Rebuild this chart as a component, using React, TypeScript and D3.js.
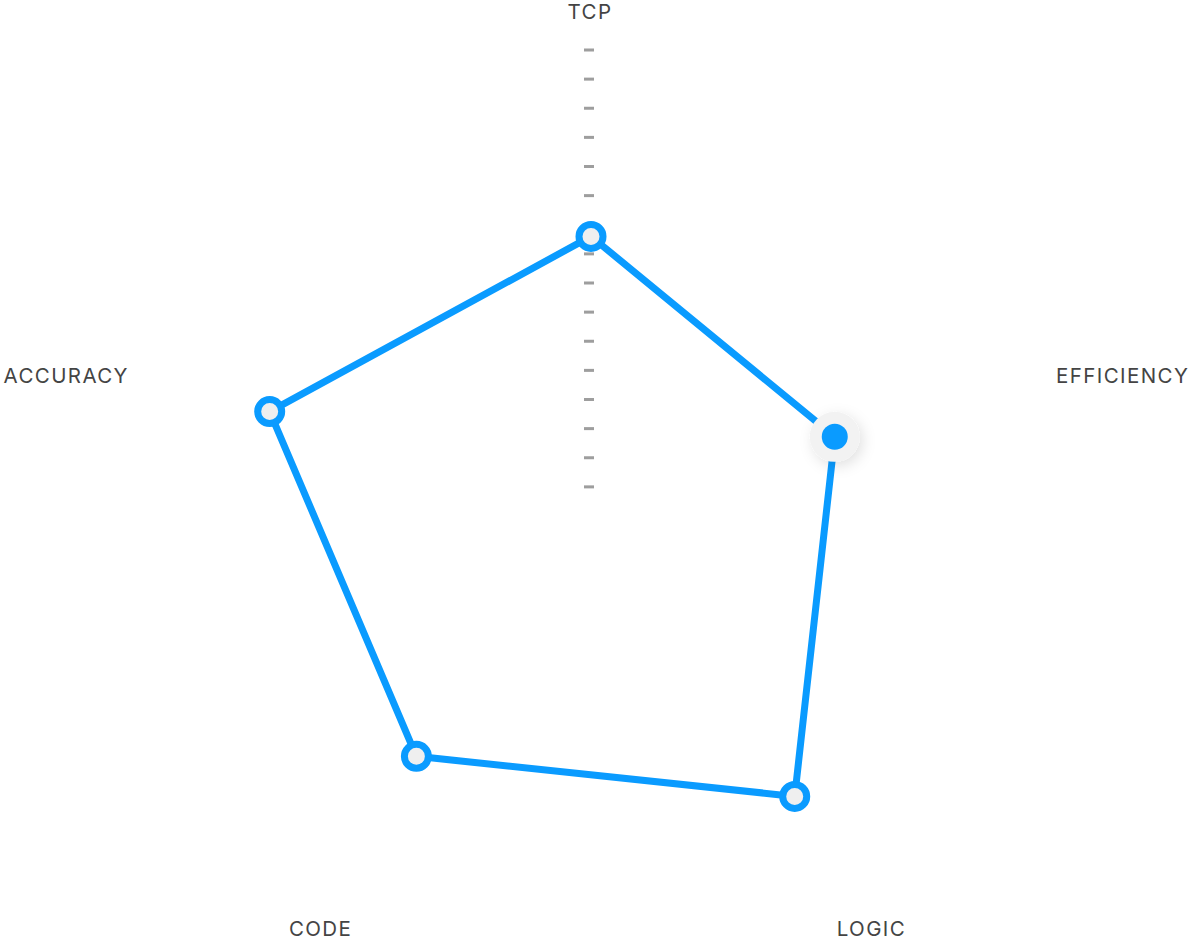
import React from "react";
import * as d3 from "d3";

const axes: string[] = ["TCP", "EFFICIENCY", "LOGIC", "CODE", "ACCURACY"];
const values: number[] = [96, 88, 119, 102, 116];
const domainMax = 160;
const tickStep = 10;
const hoveredIndex = 1;

const W = 1190;
const H = 940;
const cx = 591;
const cy = 516;
const R = 466;
const BLUE = "#0A9BFF";

export default function App() {
  const r = d3.scaleLinear().domain([0, domainMax]).range([0, R]);
  const angle = d3
    .scaleLinear()
    .domain([0, axes.length])
    .range([0, 2 * Math.PI]);

  const ticks = d3.range(tickStep, domainMax + tickStep / 2, tickStep);

  const line = d3
    .lineRadial<number>()
    .angle((_, i) => angle(i))
    .radius((d) => r(d))
    .curve(d3.curveLinearClosed);

  const pt = (i: number, v: number) => {
    const a = angle(i);
    return [cx + r(v) * Math.sin(a), cy - r(v) * Math.cos(a)];
  };

  const labelR = 489;
  const labels = axes.map((name, i) => {
    const a = angle(i);
    const s = Math.sin(a);
    const c = -Math.cos(a);
    let x = cx + s * labelR;
    let y = cy + c * labelR;
    let anchor = "middle";
    if (Math.abs(s) < 0.1) {
      y -= 16;
      x -= 1;
    } else if (Math.abs(s) > 0.9) {
      anchor = s > 0 ? "start" : "end";
      if (s < 0) x += 3;
      y += 11;
    } else {
      x -= Math.sign(s) * 12;
      x += 5;
      y += 17;
    }
    return { name, x, y, anchor };
  });

  return (
    <svg
      width={W}
      height={H}
      style={{ position: "absolute", left: 0, top: 0, background: "#fff" }}
    >
      <defs>
        <filter id="hoverShadow" x="-80%" y="-80%" width="260%" height="260%">
          <feDropShadow dx="3" dy="4" stdDeviation="7" floodColor="#000" floodOpacity="0.12" />
        </filter>
      </defs>
      <g>
        {ticks.map((t) => (
          <rect
            key={t}
            x={cx - 7}
            y={cy - r(t) - 1.5}
            width={10}
            height={3}
            fill="#9e9e9e"
          />
        ))}
      </g>
      <path
        d={line(values) || ""}
        transform={`translate(${cx},${cy})`}
        fill="none"
        stroke={BLUE}
        strokeWidth={7}
        strokeLinejoin="round"
      />
      {values.map((v, i) => {
        const [x, y] = pt(i, v);
        if (i === hoveredIndex) {
          return (
            <g key={i}>
              <circle cx={x} cy={y} r={25} fill="#f2f2f2" filter="url(#hoverShadow)" />
              <circle cx={x} cy={y} r={13} fill={BLUE} />
            </g>
          );
        }
        return (
          <circle
            key={i}
            cx={x}
            cy={y}
            r={12}
            fill="#efefef"
            stroke={BLUE}
            strokeWidth={7}
          />
        );
      })}
      {labels.map((l) => (
        <text
          key={l.name}
          x={l.x}
          y={l.y}
          textAnchor={l.anchor as any}
          dominantBaseline="central"
          fontFamily="Inter, 'Noto Sans', sans-serif"
          fontSize={20.5}
          letterSpacing={1.4}
          fill="#444"
        >
          {l.name}
        </text>
      ))}
    </svg>
  );
}
